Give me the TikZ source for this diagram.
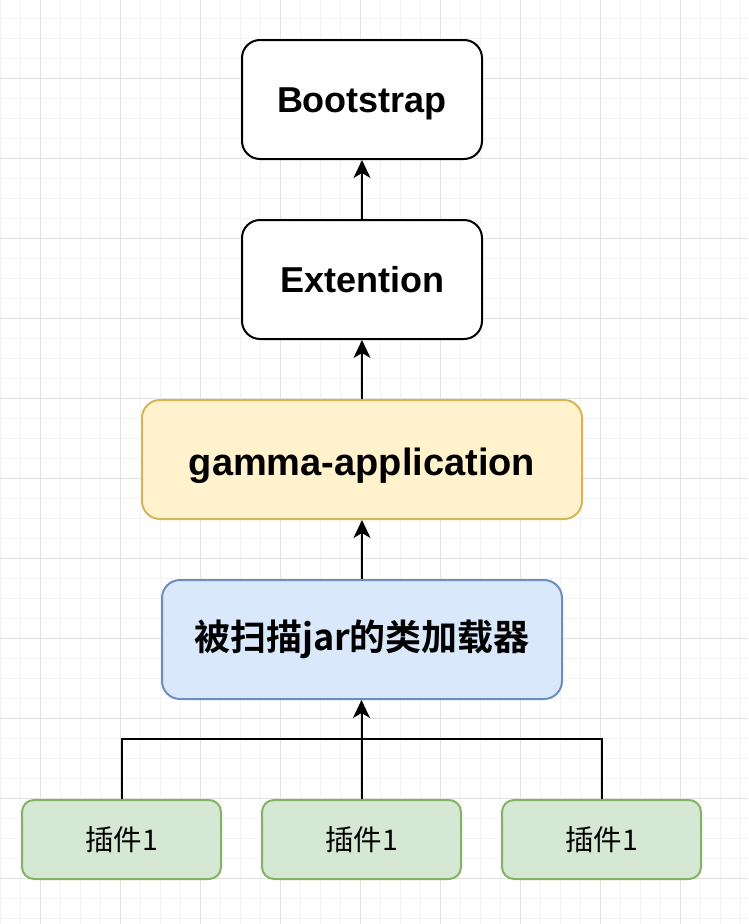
\documentclass[tikz,border=0pt]{standalone}
\usepackage{fontspec}
\setmainfont{Liberation Sans}
\newfontfamily\cjkb[BoldFont={Noto Sans CJK SC Bold}]{Noto Sans CJK SC}
\usetikzlibrary{arrows.meta}
\definecolor{gridminor}{HTML}{F3F3F3}
\definecolor{gridmajor}{HTML}{E2E2E2}
\definecolor{yfill}{HTML}{FFF2CC}
\definecolor{ydraw}{HTML}{D6B656}
\definecolor{bfill}{HTML}{DAE8FC}
\definecolor{bdraw}{HTML}{6C8EBF}
\definecolor{gfill}{HTML}{D5E8D4}
\definecolor{gdraw}{HTML}{82B366}
\tikzset{
  box/.style={draw=black, fill=white, line width=2pt, rounded corners=18pt, anchor=north west, inner sep=0pt},
  bigtext/.style={font=\fontsize{36}{40}\selectfont\bfseries, text height=26pt, text depth=0pt},
  gammatext/.style={font=\fontsize{38}{42}\selectfont\bfseries, text height=27.4pt, text depth=0pt},
  cjktext/.style={font=\cjkb\fontsize{36}{40}\selectfont\bfseries},
  smalltext/.style={font=\cjkb\fontsize{28.5}{32}\selectfont},
  arr/.style={line width=2pt, -{Stealth[length=18pt,width=17pt,inset=5pt]}},
  conn/.style={line width=2pt},
}
\begin{document}
\begin{tikzpicture}[x=1pt,y=-1pt]
\useasboundingbox (0,0) rectangle (748,924);
\fill[white] (0,0) rectangle (748,924);
% grid
\foreach \i in {0,20,...,740} \draw[gridminor, line width=0.8pt] (\i,0) -- (\i,924);
\foreach \j in {18,38,...,918} \draw[gridminor, line width=0.8pt] (0,\j) -- (748,\j);
\foreach \i in {40,120,...,740} \draw[gridmajor, line width=0.8pt] (\i,0) -- (\i,924);
\foreach \j in {78,158,...,918} \draw[gridmajor, line width=0.8pt] (0,\j) -- (748,\j);

\node[box, bigtext, minimum width=240pt, minimum height=119pt] (boot) at (241,39) {Bootstrap};
\node[box, bigtext, minimum width=240pt, minimum height=119pt] (ext) at (241,219) {Extention};
\node[box, fill=yfill, draw=ydraw, minimum width=440pt, minimum height=119pt] (gamma) at (141,399) {};
\node[gammatext, inner sep=0pt, yshift=-2pt] (gammalabel) at (gamma.center) {gamma-application};
\node[box, cjktext, fill=bfill, draw=bdraw, minimum width=400pt, minimum height=119pt] (loader) at (161,579) {被扫描jar的类加载器};
\node[box, smalltext, fill=gfill, draw=gdraw, rounded corners=12pt, minimum width=199pt, minimum height=79pt] (p1) at (21,799) {插件1};
\node[box, smalltext, fill=gfill, draw=gdraw, rounded corners=12pt, minimum width=199pt, minimum height=79pt] (p2) at (261,799) {插件1};
\node[box, smalltext, fill=gfill, draw=gdraw, rounded corners=12pt, minimum width=199pt, minimum height=79pt] (p3) at (501,799) {插件1};

\coordinate (join) at ([yshift=60pt]p2.north);
\draw[arr] (ext.north) -- (boot.south);
\draw[arr] (gamma.north) -- (ext.south);
\draw[arr] (loader.north) -- (gamma.south);
\draw[arr] (p2.north) -- (p2.north |- loader.south);
\draw[conn] (p1.north) |- (join) -| (p3.north);
\end{tikzpicture}
\end{document}
